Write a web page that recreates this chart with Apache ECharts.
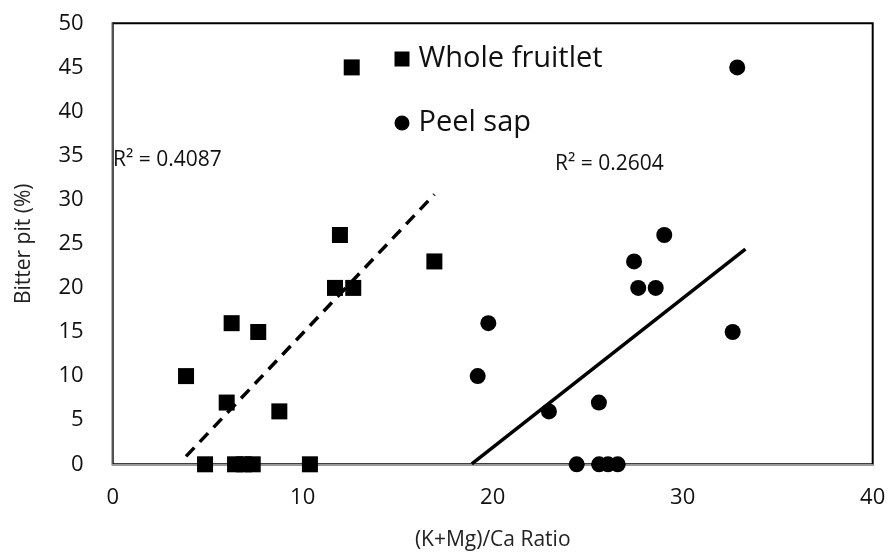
<!DOCTYPE html>
<html>
<head>
<meta charset="utf-8">
<script src="https://cdn.jsdelivr.net/npm/echarts@6/dist/echarts.min.js"></script>
<style>html,body{margin:0;padding:0;background:#fff}#c{width:891px;height:555px}</style>
</head>
<body>
<div id="c"></div>
<script>
// Whole fruitlet: [ratio, bitter pit %]
var wholeX = [12.58, 11.96, 16.93, 11.7, 12.66, 6.26, 7.66, 3.86, 6.0, 8.77, 4.86, 6.44, 6.9, 7.37, 10.38];
var wholeY = [45, 26, 23, 20, 20, 16, 15, 10, 7, 6, 0, 0, 0, 0, 0];
// Peel sap
var peelX = [32.87, 29.03, 27.44, 27.66, 28.58, 19.77, 32.63, 19.21, 25.59, 22.96, 24.42, 25.6, 26.07, 26.58];
var peelY = [45, 26, 23, 20, 20, 16, 15, 10, 7, 6, 0, 0, 0, 0];
// Trendline endpoints
var wholeTrendX = [3.86, 16.93];
var wholeTrendY = [0.9, 30.6];
var peelTrendX = [18.9, 33.3];
var peelTrendY = [0.05, 24.4];
var r2Whole = 'R² = 0.4087';
var r2Peel = 'R² = 0.2604';
var xTicks = [0, 10, 20, 30, 40];
var yTicks = [0, 5, 10, 15, 20, 25, 30, 35, 40, 45, 50];

function pairs(xs, ys){ return xs.map(function(x,i){ return [x, ys[i]]; }); }

var font = '"Open Sans", "Noto Sans", sans-serif';
var chart = echarts.init(document.getElementById('c'), null, {renderer:'canvas'});
chart.setOption({
  animation: false,
  backgroundColor: '#fff',
  grid: { left: 112.7, right: 18.3, top: 23.3, bottom: 90.7, show: true, borderColor: '#000', borderWidth: 2,
          containLabel: false, outerBoundsMode: 'none' },
  xAxis: {
    type: 'value', min: xTicks[0], max: xTicks[xTicks.length-1], interval: 10,
    name: '(K+Mg)/Ca Ratio', nameLocation: 'middle', nameGap: 65,
    nameTextStyle: { fontFamily: font, fontSize: 21, color: '#222' },
    axisLine: { show: true, lineStyle: { color: '#999', width: 2 } },
    axisTick: { show: false },
    splitLine: { show: false },
    axisLabel: { fontFamily: font, fontSize: 22, color: '#111', margin: 22 }
  },
  yAxis: {
    type: 'value', min: yTicks[0], max: yTicks[yTicks.length-1], interval: 5,
    name: 'Bitter pit (%)', nameLocation: 'middle', nameGap: 78,
    nameTextStyle: { fontFamily: font, fontSize: 21, color: '#222' },
    axisLine: { show: true, lineStyle: { color: '#555', width: 1 } },
    axisTick: { show: false },
    splitLine: { show: false },
    axisLabel: { fontFamily: font, fontSize: 22, color: '#111', margin: 29 }
  },
  legend: {
    orient: 'vertical', left: 389.5, top: 39.5, itemGap: 35,
    itemWidth: 15, itemHeight: 15,
    textStyle: { fontFamily: font, fontSize: 29, color: '#111', padding: [0, 0, 0, 4] },
    data: [{ name: 'Whole fruitlet', icon: 'rect' }, { name: 'Peel sap', icon: 'circle' }]
  },
  graphic: [
    { type: 'text', x: 113, y: 160, style: { text: r2Whole, font: '21px ' + font, fill: '#111', verticalAlign: 'middle' } },
    { type: 'text', x: 555, y: 164, style: { text: r2Peel, font: '21px ' + font, fill: '#111', verticalAlign: 'middle' } }
  ],
  series: [
    { name: 'Whole fruitlet', type: 'scatter', symbol: 'rect', symbolSize: 16, itemStyle: { color: '#000', opacity: 1 }, data: pairs(wholeX, wholeY), z: 3 },
    { name: 'Peel sap', type: 'scatter', symbol: 'circle', symbolSize: 16, itemStyle: { color: '#000', opacity: 1 }, data: pairs(peelX, peelY), z: 3 },
    { name: 'wholeTrend', type: 'line', showSymbol: false, symbol: 'none', data: pairs(wholeTrendX, wholeTrendY),
      lineStyle: { color: '#000', width: 3.5, type: [12, 8] }, z: 2 },
    { name: 'peelTrend', type: 'line', showSymbol: false, symbol: 'none', data: pairs(peelTrendX, peelTrendY),
      lineStyle: { color: '#000', width: 3.5 }, z: 2 }
  ]
});
</script>
</body>
</html>
